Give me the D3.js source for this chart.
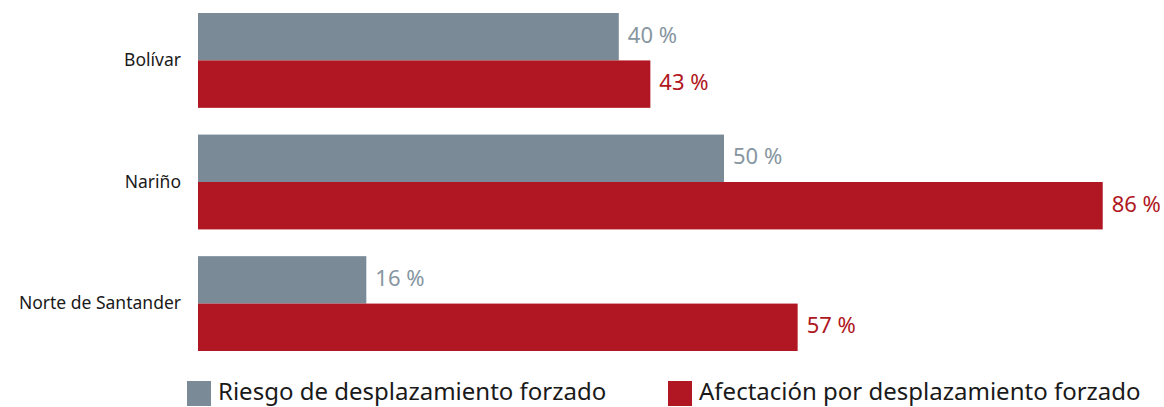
<!DOCTYPE html>
<html>
<head>
<meta charset="utf-8">
<script src="https://cdn.jsdelivr.net/npm/d3@7"></script>
<style>
  body { margin: 0; background: #fff; }
  text { font-family: "Noto Sans", sans-serif; }
</style>
</head>
<body>
<svg id="chart" width="1164" height="407"></svg>
<script>
// Chart data
const categories = ['Bolívar', 'Nariño', 'Norte de Santander'];
const seriesNames = ['Riesgo de desplazamiento forzado', 'Afectación por desplazamiento forzado'];
const riesgo = [40, 50, 16];
const afectacion = [43, 86, 57];
const seriesColors = ['#7a8b97', '#b01722'];
const labelColors = ['#8796a1', '#b01722'];

const svg = d3.select('#chart');

// Scales
const x = d3.scaleLinear().domain([0, 100]).range([198, 1250]);
const y = d3.scaleBand().domain(categories).range([13, 351]).paddingInner(0.22);
const ySub = d3.scaleBand().domain([0, 1]).range([0, y.bandwidth()]);

const rows = categories.map((c, i) => ({ cat: c, values: [riesgo[i], afectacion[i]] }));

// Category labels
svg.append('g')
  .selectAll('text')
  .data(categories)
  .join('text')
  .attr('x', 181)
  .attr('y', d => y(d) + y.bandwidth() / 2 + 1)
  .attr('text-anchor', 'end')
  .attr('dominant-baseline', 'middle')
  .style('font-size', '17.5px')
  .style('fill', '#1a1a1a')
  .text(d => d);

// Bars and value labels
const groups = svg.append('g')
  .selectAll('g')
  .data(rows)
  .join('g')
  .attr('transform', d => `translate(0,${y(d.cat)})`);

groups.selectAll('rect')
  .data(d => d.values.map((v, s) => ({ v, s })))
  .join('rect')
  .attr('x', x(0))
  .attr('y', d => ySub(d.s))
  .attr('width', d => x(d.v) - x(0))
  .attr('height', ySub.bandwidth())
  .attr('fill', d => seriesColors[d.s]);

groups.selectAll('text')
  .data(d => d.values.map((v, s) => ({ v, s })))
  .join('text')
  .attr('x', d => x(d.v) + 9)
  .attr('y', d => ySub(d.s) + ySub.bandwidth() / 2)
  .attr('dominant-baseline', 'middle')
  .style('font-size', '22px')
  .style('fill', d => labelColors[d.s])
  .text(d => `${d.v} %`);

// Legend
const legendX = [187, 668];
const legend = svg.append('g')
  .selectAll('g')
  .data(seriesNames)
  .join('g')
  .attr('transform', (d, i) => `translate(${legendX[i]},381)`);

legend.append('rect')
  .attr('width', 24)
  .attr('height', 25)
  .attr('fill', (d, i) => seriesColors[i]);

legend.append('text')
  .attr('x', 31)
  .attr('y', 13)
  .attr('dominant-baseline', 'middle')
  .style('font-size', '24px')
  .style('fill', '#1a1a1a')
  .text(d => d);
</script>
</body>
</html>
